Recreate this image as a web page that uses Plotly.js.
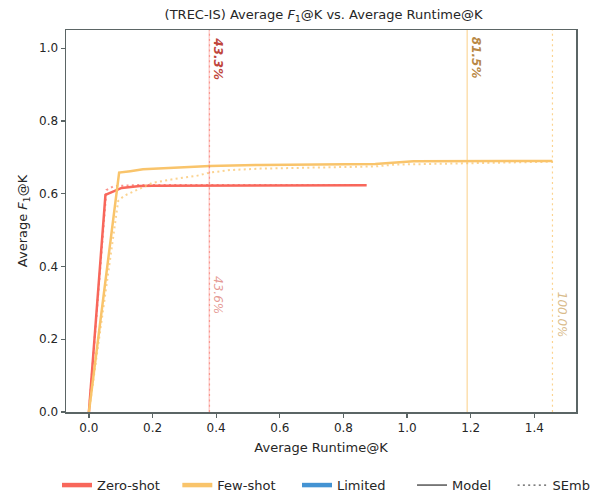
<!DOCTYPE html>
<html>
<head>
<meta charset="utf-8">
<script src="https://cdn.plot.ly/plotly-3.0.1.min.js"></script>
<style>html,body{margin:0;padding:0;background:#fff;}#chart{width:592px;height:493px;}</style>
</head>
<body>
<div id="chart"></div>
<script>
// Zero-shot, Model
const zsModelX = [0, 0.052, 0.103, 0.16, 0.2, 0.5, 0.873];
const zsModelY = [0, 0.597, 0.616, 0.621, 0.622, 0.623, 0.623];
// Zero-shot, SEmb
const zsSembX = [0, 0.055, 0.078, 0.16, 0.5, 0.867];
const zsSembY = [0, 0.610, 0.621, 0.624, 0.624, 0.624];
// Few-shot, Model
const fsModelX = [0, 0.095, 0.13, 0.17, 0.38, 0.54, 0.9, 1.02, 1.457];
const fsModelY = [0, 0.658, 0.662, 0.667, 0.676, 0.679, 0.682, 0.689, 0.690];
// Few-shot, SEmb
const fsSembX = [0, 0.092, 0.11, 0.139, 0.2, 0.265, 0.338, 0.38, 0.443, 0.54, 0.9, 0.96, 1.457];
const fsSembY = [0, 0.580, 0.594, 0.605, 0.630, 0.640, 0.649, 0.658, 0.665, 0.669, 0.675, 0.680, 0.688];

// vertical marker lines
const vlineX = [0.378, 0.379, 1.189, 1.457];
const vlineLabels = ["43.3%", "43.6%", "81.5%", "100.0%"];
const vlineLabelY = [null, 0.32, null, 0.266];

const xTicks = [0.0, 0.2, 0.4, 0.6, 0.8, 1.0, 1.2, 1.4];
const yTicks = [0.0, 0.2, 0.4, 0.6, 0.8, 1.0];
const legendNames = ["Zero-shot", "Few-shot", "Limited", "Model", "SEmb"];

const RED = "#F8675B", YEL = "#F9C46B", BLUE = "#4393D3", GRAY = "#555555";
const DOT = "2px,3.3px";
const PAD3 = "\u00a0\u00a0\u00a0";
const PAD4 = "\u00a0\u00a0\u00a0\u00a0";

const traces = [
  {x: zsModelX, y: zsModelY, mode: "lines", line: {color: RED, width: 2.5}, showlegend: false, hoverinfo: "skip"},
  {x: zsSembX, y: zsSembY, mode: "lines", line: {color: RED, width: 2, dash: DOT}, opacity: 0.7, showlegend: false, hoverinfo: "skip"},
  {x: fsModelX, y: fsModelY, mode: "lines", line: {color: YEL, width: 2.5}, showlegend: false, hoverinfo: "skip"},
  {x: fsSembX, y: fsSembY, mode: "lines", line: {color: YEL, width: 2, dash: DOT}, opacity: 0.75, showlegend: false, hoverinfo: "skip"},
  {x: [null], y: [null], mode: "lines", name: legendNames[0] + PAD3, legend: "legend", line: {color: RED, width: 4.5}},
  {x: [null], y: [null], mode: "lines", name: legendNames[1] + PAD4, legend: "legend", line: {color: YEL, width: 4.5}},
  {x: [null], y: [null], mode: "lines", name: legendNames[2], legend: "legend", line: {color: BLUE, width: 4.5}},
  {x: [null], y: [null], mode: "lines", name: legendNames[3] + PAD4, legend: "legend2", line: {color: GRAY, width: 1.5}},
  {x: [null], y: [null], mode: "lines", name: legendNames[4], legend: "legend2", line: {color: GRAY, width: 1.2, dash: DOT}}
];

const shapes = [
  {type: "line", xref: "x", yref: "paper", x0: vlineX[0], x1: vlineX[0], y0: 0, y1: 1, line: {color: "rgba(248,103,91,0.45)", width: 1}},
  {type: "line", xref: "x", yref: "paper", x0: vlineX[1], x1: vlineX[1], y0: 0, y1: 1, line: {color: "rgba(248,103,91,0.55)", width: 1.2, dash: DOT}},
  {type: "line", xref: "x", yref: "paper", x0: vlineX[2], x1: vlineX[2], y0: 0, y1: 1, line: {color: "rgba(249,196,107,0.55)", width: 1.5}},
  {type: "line", xref: "x", yref: "paper", x0: vlineX[3], x1: vlineX[3], y0: 0, y1: 1, line: {color: "rgba(249,196,107,0.75)", width: 1.2, dash: DOT}}
];

const labelColors = ["#C0463C", "rgba(220,120,112,0.75)", "#B98845", "rgba(205,165,100,0.75)"];
const labelBold = [true, false, true, false];
const annotations = vlineX.map((x, i) => {
  const top = vlineLabelY[i] === null;
  return {
    xref: "x", yref: top ? "paper" : "y", x: x, y: top ? 1 : vlineLabelY[i],
    text: vlineLabels[i], textangle: 90, showarrow: false,
    xanchor: "left", yanchor: top ? "top" : "middle", yshift: top ? -5 : 0, xshift: 0,
    font: {family: "DejaVu Sans", size: 12, color: labelColors[i], weight: labelBold[i] ? "bold" : "normal", style: "italic"}
  };
});

const axisCommon = {
  showgrid: false, zeroline: false, showline: true, mirror: true, automargin: false,
  linecolor: "#5B6565", linewidth: 1.5, ticks: "outside", ticklen: 4, tickwidth: 1.2, tickcolor: "#5B6565",
  tickfont: {family: "DejaVu Sans", size: 12, color: "#262626"}
};

const legendCommon = {orientation: "h", xref: "container", yref: "container", xanchor: "left", y: 0.016, yanchor: "middle",
  font: {family: "DejaVu Sans", size: 13, color: "#262626"}, bgcolor: "rgba(0,0,0,0)"};

const layout = {
  width: 592, height: 493,
  margin: {l: 66, r: 16, t: 30, b: 81},
  paper_bgcolor: "#ffffff", plot_bgcolor: "#ffffff",
  font: {family: "DejaVu Sans", color: "#262626"},
  title: {text: "(TREC-IS) Average <i>F</i><sub>1</sub>@K vs. Average Runtime@K", font: {family: "DejaVu Sans", size: 13, color: "#262626"}, x: 0.5465, xanchor: "center", y: 0.97, yanchor: "middle"},
  xaxis: Object.assign({}, axisCommon, {range: [-0.072, 1.531], tickvals: xTicks, ticktext: xTicks.map(v => v.toFixed(1)),
    title: {text: "Average Runtime@K", font: {family: "DejaVu Sans", size: 13, color: "#262626"}, standoff: 9}}),
  yaxis: Object.assign({}, axisCommon, {range: [0, 1.05], tickvals: yTicks, ticktext: yTicks.map(v => v.toFixed(1)),
    title: {text: "Average <i>F</i><sub>1</sub>@K", font: {family: "DejaVu Sans", size: 13, color: "#262626"}, standoff: 8}}),
  shapes: shapes,
  annotations: annotations,
  showlegend: true,
  legend: Object.assign({}, legendCommon, {x: 0.0963}),
  legend2: Object.assign({}, legendCommon, {x: 0.696})
};

Plotly.newPlot("chart", traces, layout, {displayModeBar: false, staticPlot: true});
</script>
</body>
</html>
